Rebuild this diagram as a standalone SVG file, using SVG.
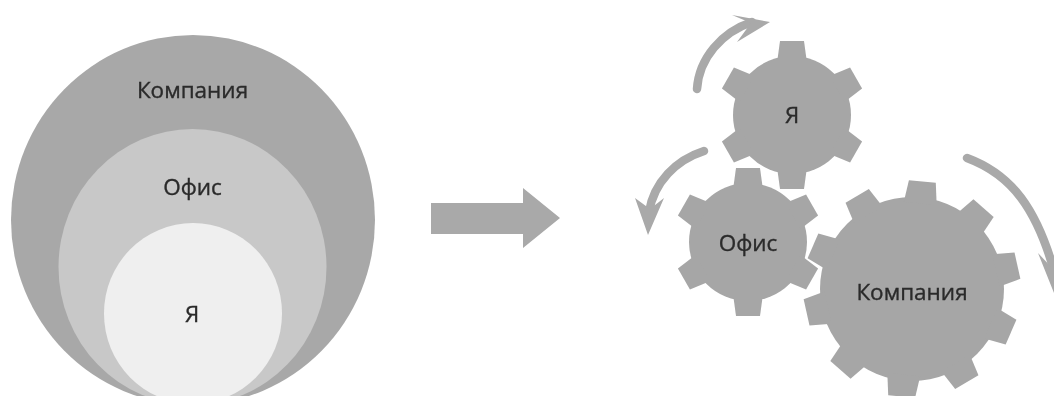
<svg xmlns="http://www.w3.org/2000/svg" width="1054" height="396" viewBox="0 0 1054 396">
  <style>
    .g { fill: #a6a6a6; }
    .t { font-family: "Open Sans", "Noto Sans", sans-serif; font-size: 22.500px; fill: #2a2a2a; stroke: #2a2a2a; stroke-width: 0.35; text-anchor: middle; }
    .curve { fill: none; stroke: #a9a9a9; stroke-width: 8.500; stroke-linecap: round; }
    .head { fill: #a9a9a9; }
  </style>
  <defs>
    <polygon id="ts" points="-15,-52 -12,-74 12,-74 15,-52"/>
    <polygon id="tb" points="-16.500,-86 -13.500,-108 13.500,-108 16.500,-86"/>
    <filter id="soft" x="-5%" y="-5%" width="110%" height="110%"><feGaussianBlur stdDeviation="0.6"/></filter>
  </defs>
  <rect width="1054" height="396" fill="#ffffff"/>
  <g filter="url(#soft)">
    <g id="circle-company">
      <ellipse cx="193" cy="220" rx="182" ry="185" fill="#a8a8a8"/>
      <text class="t" x="192.500" y="98">Компания</text>
    </g>
    <g id="circle-office">
      <ellipse cx="192.500" cy="267" rx="134" ry="138" fill="#c8c8c8"/>
      <text class="t" x="192.500" y="195">Офис</text>
    </g>
    <g id="circle-me">
      <ellipse cx="193" cy="313.500" rx="89" ry="90.500" fill="#efefef"/>
      <text class="t" x="192" y="322">Я</text>
    </g>
    <g id="connectors">
      <polygon id="main-arrow" points="431,203 523,203 523,188 560,218 523,248 523,234 431,234" fill="#a9a9a9"/>
      <path class="curve" d="M697,89 C699,58 722,32 752,22"/>
      <polygon class="head" points="770,22 732,15 751,23 737,42"/>
      <path class="curve" d="M704,151 C676,160 654,182 649,212"/>
      <polygon class="head" points="648,235 635,198 650,209 664,198"/>
      <path class="curve" d="M967,158 C1010,174 1038,206 1058,285"/>
      <polygon class="head" points="1064,318 1038,253 1054,270 1078,262"/>
    </g>
    <g id="gear-me" class="g">
      <circle cx="792" cy="115" r="59"/>
      <use href="#ts" transform="translate(792,115)"/>
      <use href="#ts" transform="translate(792,115) rotate(60)"/>
      <use href="#ts" transform="translate(792,115) rotate(120)"/>
      <use href="#ts" transform="translate(792,115) rotate(180)"/>
      <use href="#ts" transform="translate(792,115) rotate(240)"/>
      <use href="#ts" transform="translate(792,115) rotate(300)"/>
      <text class="t" x="792" y="123">Я</text>
    </g>
    <g id="gear-office" class="g">
      <circle cx="748" cy="242" r="59"/>
      <use href="#ts" transform="translate(748,242)"/>
      <use href="#ts" transform="translate(748,242) rotate(60)"/>
      <use href="#ts" transform="translate(748,242) rotate(120)"/>
      <use href="#ts" transform="translate(748,242) rotate(180)"/>
      <use href="#ts" transform="translate(748,242) rotate(240)"/>
      <use href="#ts" transform="translate(748,242) rotate(300)"/>
      <text class="t" x="748" y="251">Офис</text>
    </g>
    <g id="gear-company" class="g">
      <circle cx="912" cy="289" r="92"/>
      <use href="#tb" transform="translate(912,289) rotate(5.500)"/>
      <use href="#tb" transform="translate(912,289) rotate(41.500)"/>
      <use href="#tb" transform="translate(912,289) rotate(77.500)"/>
      <use href="#tb" transform="translate(912,289) rotate(113.500)"/>
      <use href="#tb" transform="translate(912,289) rotate(149.500)"/>
      <use href="#tb" transform="translate(912,289) rotate(185.500)"/>
      <use href="#tb" transform="translate(912,289) rotate(221.500)"/>
      <use href="#tb" transform="translate(912,289) rotate(257.500)"/>
      <use href="#tb" transform="translate(912,289) rotate(293.500)"/>
      <use href="#tb" transform="translate(912,289) rotate(329.500)"/>
      <text class="t" x="912" y="300">Компания</text>
    </g>
  </g>
</svg>
